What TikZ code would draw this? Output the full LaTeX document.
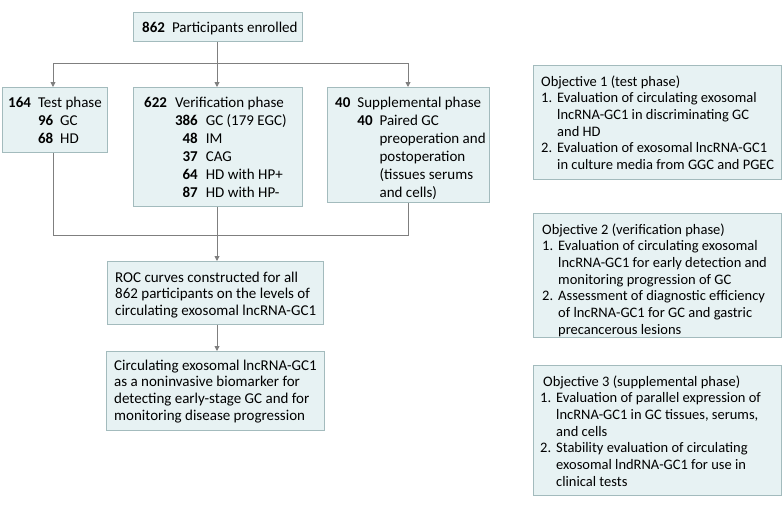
\documentclass[tikz,border=0pt]{standalone}
\usepackage{fontspec}
\setmainfont{Carlito}
\usetikzlibrary{arrows.meta}
\definecolor{boxfill}{HTML}{E7F2F3}
\definecolor{boxline}{HTML}{A3BBBD}
\definecolor{conn}{HTML}{7F7F7F}
\tikzset{
  flowbox/.style={draw=boxline, fill=boxfill, line width=0.9pt, anchor=north west, inner sep=0pt},
  txt/.style={anchor=base west, inner sep=0pt, font=\fontsize{15}{18}\selectfont},
  txtb/.style={anchor=base west, inner sep=0pt, font=\fontsize{15}{16.7}\selectfont},
  txto/.style={anchor=base west, inner sep=0pt, font=\fontsize{14.5}{16.7}\selectfont},
  conline/.style={draw=conn, line width=0.9pt},
  conarrow/.style={conline, -{Triangle[width=5pt,length=5pt]}}
}
\newcommand{\itm}[1]{\makebox[16pt][l]{#1}}
\begin{document}
\begin{tikzpicture}[x=1pt,y=-1pt]
\useasboundingbox (0,0) rectangle (783,514);
% boxes
\node[flowbox, minimum width=169pt, minimum height=29pt] (top) at (133,12) {};
\node[flowbox, minimum width=105pt, minimum height=65pt] (test) at (2,87) {};
\node[flowbox, minimum width=169pt, minimum height=119pt] (ver) at (133,87) {};
\node[flowbox, minimum width=162pt, minimum height=115pt] (sup) at (327,87) {};
\node[flowbox, minimum width=216pt, minimum height=63pt] (roc) at (107,261) {};
\node[flowbox, minimum width=218pt, minimum height=79pt] (fin) at (106,351) {};
\node[flowbox, minimum width=248pt, minimum height=114pt] (o1) at (533,65) {};
\node[flowbox, minimum width=248pt, minimum height=124pt] (o2) at (533,213) {};
\node[flowbox, minimum width=248pt, minimum height=130pt] (o3) at (533,365) {};
% texts
\node[txt] (ttop) at (142,32) {\textbf{862}\hspace{7pt}Participants enrolled};
\node[txt] (ttest) at (8,107) {\begin{tabular}[t]{@{}l@{\hspace{7pt}}l@{}}\textbf{164} & Test phase\\
 & \begin{tabular}[t]{@{}r@{\hspace{7pt}}l@{}}\textbf{96} & GC\\ \textbf{68} & HD\end{tabular}\end{tabular}};
\node[txt] (tver) at (144,107) {\begin{tabular}[t]{@{}l@{\hspace{8pt}}l@{}}\textbf{622} & Verification phase\\
 & \begin{tabular}[t]{@{}r@{\hspace{8pt}}l@{}}\textbf{386} & GC (179 EGC)\\ \textbf{48} & IM\\ \textbf{37} & CAG\\ \textbf{64} & HD with HP+\\ \textbf{87} & HD with HP-\end{tabular}\end{tabular}};
\node[txt] (tsup) at (335,107) {\begin{tabular}[t]{@{}l@{\hspace{7pt}}l@{}}\textbf{40} & Supplemental phase\\
 & \begin{tabular}[t]{@{}r@{\hspace{7pt}}l@{}}\textbf{40} & Paired GC\\ & preoperation and\\ & postoperation\\ & (tissues serums\\ & and cells)\end{tabular}\end{tabular}};
\node[txtb] (troc) at (115,282) {\begin{tabular}[t]{@{}l@{}}ROC curves constructed for all\\ 862 participants on the levels of\\ circulating exosomal lncRNA-GC1\end{tabular}};
\node[txtb] (tfin) at (114,370) {\begin{tabular}[t]{@{}l@{}}Circulating exosomal lncRNA-GC1\\ as a noninvasive biomarker for\\ detecting early-stage GC and for\\ monitoring disease progression\end{tabular}};
\node[txto] (to1) at (541,86) {\begin{tabular}[t]{@{}l@{}l@{}}\multicolumn{2}{@{}l@{}}{Objective 1 (test phase)}\\
\itm{1.} & Evaluation of circulating exosomal\\ & lncRNA-GC1 in discriminating GC\\ & and HD\\
\itm{2.} & Evaluation of exosomal lncRNA-GC1\\ & in culture media from GGC and PGEC\end{tabular}};
\node[txto] (to2) at (542,234) {\begin{tabular}[t]{@{}l@{}l@{}}\multicolumn{2}{@{}l@{}}{Objective 2 (verification phase)}\\
\itm{1.} & Evaluation of circulating exosomal\\ & lncRNA-GC1 for early detection and\\ & monitoring progression of GC\\
\itm{2.} & Assessment of diagnostic efficiency\\ & of lncRNA-GC1 for GC and gastric\\ & precancerous lesions\end{tabular}};
\node[txto] (to3) at (540,386) {\begin{tabular}[t]{@{}l@{}l@{}}\multicolumn{2}{@{}l@{}}{\hspace{3pt}Objective 3 (supplemental phase)}\\
\itm{1.} & Evaluation of parallel expression of\\ & lncRNA-GC1 in GC tissues, serums,\\ & and cells\\
\itm{2.} & Stability evaluation of circulating\\ & exosomal lndRNA-GC1 for use in\\ & clinical tests\end{tabular}};
% connectors
\coordinate (split) at (217,63);
\coordinate (sl) at (53,63);
\coordinate (sr) at (408,63);
\coordinate (jl) at (53,235);
\coordinate (jm) at (217,235);
\coordinate (jr) at (408,235);
\draw[conline] (top.south -| split) -- (split);
\draw[conline] (sl) -- (sr);
\draw[conarrow] (sl) -- (sl |- test.north);
\draw[conarrow] (split) -- (split |- ver.north);
\draw[conarrow] (sr) -- (sr |- sup.north);
\draw[conline] (test.south -| jl) -- (jl) -- (jr) -- (sup.south -| jr);
\draw[conarrow] (ver.south -| jm) -- (jm |- roc.north);
\draw[conarrow] (roc.south -| jm) -- (jm |- fin.north);
\end{tikzpicture}
\end{document}
